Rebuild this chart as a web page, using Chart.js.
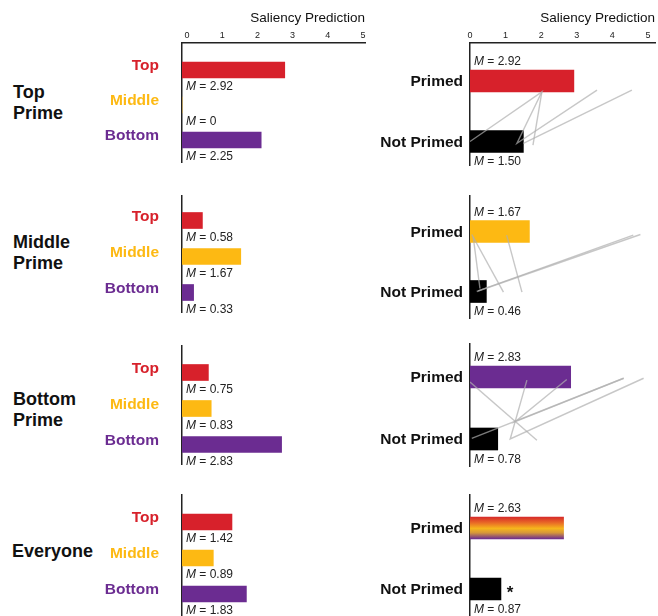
<!DOCTYPE html>
<html>
<head>
<meta charset="utf-8">
<script src="https://cdn.jsdelivr.net/npm/chart.js@4/dist/chart.umd.min.js"></script>
<style>
html,body{margin:0;padding:0;background:#fff;}
body{width:658px;height:616px;position:relative;overflow:hidden;font-family:"Liberation Sans",Arial,sans-serif;}
canvas{position:absolute;}
.rowname{position:absolute;left:13px;font-weight:bold;font-size:18px;line-height:21px;color:#111;white-space:pre;}
</style>
</head>
<body>
<script>
// ---------------- DATA ----------------
const rowNames = ['Top Prime', 'Middle Prime', 'Bottom Prime', 'Everyone'];
const positionLabels = ['Top', 'Middle', 'Bottom'];
const primeLabels = ['Primed', 'Not Primed'];
const axisTitle = 'Saliency Prediction';
const xTicks = [0, 1, 2, 3, 4, 5];

// Left column: saliency prediction for each position, per prime group
const topPrimeValues = [2.92, 0, 2.25];
const middlePrimeValues = [0.58, 1.67, 0.33];
const bottomPrimeValues = [0.75, 0.83, 2.83];
const everyoneValues = [1.42, 0.89, 1.83];

// Right column: primed vs not primed
const topPrimedVsNot = [2.92, 1.50];
const middlePrimedVsNot = [1.67, 0.46];
const bottomPrimedVsNot = [2.83, 0.78];
const everyonePrimedVsNot = [2.63, 0.87];

// significance marker next to the "Not Primed" bar
const significanceMarks = ['', '', '', '*'];

// faint grey connecting lines (x = saliency, y = 0 Primed .. 1 Not Primed)
const topPrimeLines = [
  [[0, 1.0], [2.02, 0.18], [1.32, 1.03], [3.57, 0.15]],
  [[2.02, 0.18], [1.77, 1.06]],
  [[1.50, 1.03], [4.55, 0.15]]
];
const middlePrimeLines = [
  [[0.05, 0.05], [0.94, 1.01]],
  [[0.09, 0.09], [0.28, 0.95]],
  [[1.03, 0.06], [1.46, 1.01]],
  [[0.19, 1.0], [4.79, 0.05]],
  [[0.23, 0.99], [4.59, 0.06]]
];
const bottomPrimeLines = [
  [[0, 0.08], [1.88, 1.02]],
  [[1.60, 0.05], [1.13, 1.0], [4.88, 0.02]],
  [[2.72, 0.04], [1.27, 0.72], [4.32, 0.02]],
  [[0.05, 0.99], [4.32, 0.02]]
];
const everyoneLines = [];

// ---------------- STYLE / LAYOUT ----------------
const FONT = "'Liberation Sans', Arial, sans-serif";
const RED = '#d7212b', YELLOW = '#fdb913', PURPLE = '#6b2c91', BLACK = '#000000';
const positionColors = [RED, YELLOW, PURPLE];
const primedColors = [RED, YELLOW, PURPLE, 'gradient'];
const PAGE_H = 616;

const GEOM = {
  left: {x: 60, w: 310, axisW: 122, padR: 5, thick: 16, tickPad: 23, labelOffset: -4, xLabelOffset: 5,
    mOffsets: [17, 17, 17],
    rows: [{top: 43, bottom: 162, first: 70, step: 35},
           {top: 195, bottom: 312, first: 220.5, step: 36},
           {top: 345, bottom: 464, first: 372.5, step: 36},
           {top: 494, bottom: 616, first: 522, step: 36}]},
  right: {x: 370, w: 288, axisW: 100, padR: 3, thick: 22, tickPad: 7, labelOffset: 1, xLabelOffset: 0,
    mOffsets: [-19, 20.5],
    rows: [{top: 43, bottom: 165, first: 81, step: 60.5},
           {top: 195, bottom: 318, first: 231.5, step: 60},
           {top: 343, bottom: 466, first: 377, step: 62},
           {top: 494, bottom: 616, first: 528, step: 61}]}
};
const rowNameTops = [81.5, 231.5, 388.5, 540.5];

Chart.defaults.font.family = FONT;

const fmt = v => v === 0 ? '0' : v.toFixed(2);

const mLabelPlugin = {
  id: 'mLabels',
  afterDatasetsDraw(chart, args, opts) {
    const meta = chart.getSortedVisibleDatasetMetas().find(m => m.type === 'bar');
    if (!meta) return;
    const ctx = chart.ctx;
    const left = chart.chartArea.left + 4;
    ctx.save();
    ctx.textBaseline = 'middle';
    ctx.textAlign = 'left';
    ctx.fillStyle = '#222';
    meta.data.forEach((el, i) => {
      const y = el.y + opts.offsets[i];
      ctx.font = 'italic 12px ' + FONT;
      ctx.fillText('M', left, y);
      const w = ctx.measureText('M').width;
      ctx.font = '12px ' + FONT;
      ctx.fillText(' = ' + fmt(opts.values[i]), left + w, y);
    });
    if (opts.sig) {
      const el = meta.data[meta.data.length - 1];
      ctx.font = 'bold 17px ' + FONT;
      ctx.fillStyle = '#111';
      ctx.textAlign = 'center';
      ctx.fillText(opts.sig, el.x + 9, el.y + 4);
    }
    ctx.restore();
  }
};

function gradientFill(chart, i, thick) {
  const ys = chart.scales && chart.scales.y;
  if (!ys || ys.top === undefined || !chart.chartArea) return '#ee9a20';
  const c = ys.getPixelForValue(i);
  const g = chart.ctx.createLinearGradient(0, c - thick / 2, 0, c + thick / 2);
  g.addColorStop(0, '#d62a2a');
  g.addColorStop(0.28, '#ea6f26');
  g.addColorStop(0.52, '#f6b61c');
  g.addColorStop(0.72, '#d6973a');
  g.addColorStop(1, '#6b2c91');
  return g;
}

function makePanel(side, r, values, labels, colors, tickColors, lines, sig) {
  const g = GEOM[side], rg = g.rows[r];
  const header = r === 0;
  const cTop = header ? 0 : rg.top;
  const extra = Math.min(9, PAGE_H - rg.bottom);
  const cH = rg.bottom - cTop + extra;
  const canvas = document.createElement('canvas');
  canvas.width = g.w; canvas.height = cH;
  canvas.style.left = g.x + 'px'; canvas.style.top = cTop + 'px';
  canvas.style.width = g.w + 'px'; canvas.style.height = cH + 'px';
  document.body.appendChild(canvas);
  const yMin = (rg.top - rg.first) / rg.step;
  const yMax = (rg.bottom - rg.first) / rg.step;

  const datasets = [];
  (lines || []).forEach(pl => datasets.push({
    type: 'line', data: pl.map(p => ({x: p[0], y: p[1]})),
    borderColor: 'rgba(175,175,175,0.7)', borderWidth: 1.4, pointRadius: 0,
    fill: false, tension: 0, order: 0
  }));
  datasets.push({
    type: 'bar', indexAxis: 'y', order: 1,
    data: values.map((v, i) => ({x: v, y: i})),
    backgroundColor: (ctx) => {
      const c = colors[ctx.dataIndex];
      return c === 'gradient' ? gradientFill(ctx.chart, ctx.dataIndex, g.thick) : c;
    },
    barThickness: g.thick, borderWidth: 0
  });

  const xScale = header ? {
    type: 'linear', position: 'top', min: 0, max: 5.2, offset: false, bounds: 'data', grace: 0,
    afterBuildTicks: a => { a.ticks = xTicks.map(v => ({value: v})); },
    ticks: {font: {size: 9}, color: '#222', padding: 2, labelOffset: g.xLabelOffset, maxRotation: 0, autoSkip: false},
    grid: {display: false, drawTicks: false, offset: false},
    border: {display: true, color: '#222', width: 1.5},
    title: {display: true, text: axisTitle, align: 'end', color: '#111', font: {size: 13.5}, padding: {top: 10, bottom: 0}},
    afterFit: s => { s.height = 43; s.paddingLeft = 0; s.paddingRight = 0; }
  } : {type: 'linear', display: false, min: 0, max: 5.2, offset: false, bounds: 'data', grace: 0, grid: {offset: false}};

  new Chart(canvas, {
    type: 'bar',
    data: {datasets},
    options: {
      responsive: false, animation: false, devicePixelRatio: 1,
      layout: {padding: {left: 0, right: g.padR, top: 0, bottom: extra}},
      plugins: {
        legend: {display: false}, tooltip: {enabled: false},
        mLabels: {values, offsets: g.mOffsets, sig}
      },
      scales: {
        x: xScale,
        y: {
          type: 'linear', reverse: true, min: yMin, max: yMax, offset: false, bounds: 'data', grace: 0,
          afterBuildTicks: a => { a.ticks = labels.map((_, i) => ({value: i})); },
          ticks: {
            callback: v => labels[v],
            color: c => tickColors[c.index],
            font: {size: 15.5, weight: 'bold'},
            padding: g.tickPad, labelOffset: g.labelOffset, autoSkip: false
          },
          grid: {display: false, drawTicks: false, offset: false},
          border: {display: true, color: '#222', width: 1.5},
          afterFit: s => { s.width = g.axisW; s.paddingTop = 0; s.paddingBottom = 0; }
        }
      }
    },
    plugins: [mLabelPlugin]
  });
}

// row names
rowNames.forEach((n, i) => {
  const d = document.createElement('div');
  d.className = 'rowname';
  d.textContent = n.split(' ').join('\n');
  d.style.top = rowNameTops[i] + 'px';
  if (i === 3) d.style.left = '12px';
  document.body.appendChild(d);
});

const leftValues = [topPrimeValues, middlePrimeValues, bottomPrimeValues, everyoneValues];
const rightValues = [topPrimedVsNot, middlePrimedVsNot, bottomPrimedVsNot, everyonePrimedVsNot];
const rightLines = [topPrimeLines, middlePrimeLines, bottomPrimeLines, everyoneLines];

for (let r = 0; r < 4; r++) {
  makePanel('left', r, leftValues[r], positionLabels, positionColors, positionColors, null, '');
  makePanel('right', r, rightValues[r], primeLabels, [primedColors[r], BLACK], ['#111', '#111'], rightLines[r], significanceMarks[r]);
}
</script>
</body>
</html>
